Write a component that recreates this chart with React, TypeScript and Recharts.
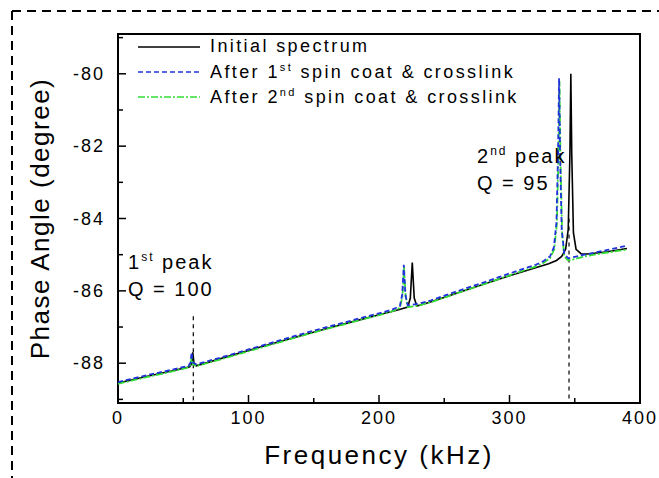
import { LineChart, Line, XAxis, YAxis, ReferenceLine, ReferenceArea, Label } from "recharts";

const initialFreq = [0, 20, 40, 55, 56.5, 57.3, 58.2, 60, 80, 100, 120, 140, 160, 180, 200, 215, 222, 224, 225.5, 227, 229, 240, 260, 280, 300, 320, 330, 336, 340, 343, 345, 346.3, 347, 347.7, 349, 351, 355, 360, 375, 390];
const initialPhase = [-88.55, -88.38, -88.22, -88.1, -88.0, -87.7, -88.0, -88.07, -87.86, -87.65, -87.44, -87.24, -87.04, -86.85, -86.66, -86.52, -86.45, -86.2, -85.22, -86.2, -86.42, -86.3, -86.06, -85.82, -85.58, -85.36, -85.25, -85.16, -85.05, -84.85, -84.3, -82.2, -80.0, -82.2, -84.4, -84.85, -84.98, -84.98, -84.92, -84.83];

const firstFreq = [0, 20, 40, 54, 55.6, 56.4, 57.2, 60, 80, 100, 120, 140, 160, 180, 200, 210, 216, 217.8, 219, 220.2, 222, 230, 240, 260, 280, 300, 320, 326, 331, 334, 336, 337.2, 338, 338.8, 340, 342, 345, 350, 360, 375, 390];
const firstPhase = [-88.52, -88.35, -88.19, -88.07, -87.98, -87.7, -87.98, -88.03, -87.83, -87.62, -87.41, -87.2, -87.0, -86.81, -86.62, -86.52, -86.42, -86.1, -85.28, -86.1, -86.4, -86.36, -86.26, -86.01, -85.77, -85.52, -85.28, -85.18, -85.05, -84.8, -84.1, -82.2, -80.12, -82.3, -84.3, -84.98, -85.1, -85.06, -84.98, -84.87, -84.75];

const secondFreq = [0, 20, 40, 54, 55.7, 56.5, 57.3, 60, 80, 100, 120, 140, 160, 180, 200, 210, 216, 218, 219.2, 220.4, 222, 230, 240, 260, 280, 300, 320, 326, 331, 334.3, 336.3, 337.5, 338.3, 339.1, 340.3, 342, 345, 350, 360, 375, 390];
const secondPhase = [-88.57, -88.4, -88.24, -88.12, -88.03, -87.78, -88.03, -88.08, -87.88, -87.67, -87.46, -87.25, -87.05, -86.86, -86.67, -86.57, -86.47, -86.15, -85.35, -86.15, -86.45, -86.41, -86.31, -86.06, -85.82, -85.57, -85.33, -85.23, -85.1, -84.85, -84.15, -82.3, -80.2, -82.4, -84.4, -85.05, -85.16, -85.12, -85.03, -84.94, -84.86];

const xTicks = [0, 50, 100, 150, 200, 250, 300, 350, 400];
const yTicks = [-89, -88, -87, -86, -85, -84, -83, -82, -81, -80, -79];

const toPoints = (f: number[], p: number[]) => f.map((x, i) => ({ freq: x, phase: p[i] }));
const initialData = toPoints(initialFreq, initialPhase);
const firstData = toPoints(firstFreq, firstPhase);
const secondData = toPoints(secondFreq, secondPhase);

const FONT = "'Liberation Sans', Arial, sans-serif";

const XTick = (props: any) => {
  const { x, y, payload } = props;
  const major = payload.value % 100 === 0;
  return (
    <g>
      <line x1={x} x2={x} y1={y} y2={y - (major ? 8 : 5)} stroke="#000" strokeWidth={1.5} />
      {major && (
        <text x={x} y={y + 21} textAnchor="middle" fontSize={18} fontFamily={FONT} letterSpacing={2} fill="#000">
          {payload.value}
        </text>
      )}
    </g>
  );
};

const YTick = (props: any) => {
  const { x, y, payload } = props;
  const major = Math.abs(payload.value) % 2 === 0;
  return (
    <g>
      <line x1={x} x2={x + (major ? 8 : 5)} y1={y} y2={y} stroke="#000" strokeWidth={1.5} />
      {major && (
        <text x={x - 13} y={y + 6} textAnchor="end" fontSize={18} fontFamily={FONT} letterSpacing={2} fill="#000">
          {payload.value}
        </text>
      )}
    </g>
  );
};

const legendRows = [
  { name: "Initial spectrum", color: "#000", dash: undefined, sup: "", pre: "" },
  { name: " spin coat & crosslink", color: "#2233dd", dash: "5 3", sup: "st", pre: "After 1" },
  { name: " spin coat & crosslink", color: "#33dd33", dash: "7 2 2 2", sup: "nd", pre: "After 2" },
];

const LegendBox = () => (
  <div style={{ position: "absolute", left: 138, top: 34, fontFamily: FONT, fontSize: 18, letterSpacing: 2.4, color: "#000" }}>
    {legendRows.map((r, i) => (
      <div key={i} style={{ display: "flex", alignItems: "center", height: 25 }}>
        <svg width={70} height={10} style={{ marginRight: 2 }}>
          <line x1={0} x2={62} y1={5} y2={5} stroke={r.color} strokeWidth={1.6} strokeDasharray={r.dash} />
        </svg>
        <span>
          {r.pre || r.name}
          {r.sup && <sup style={{ fontSize: 11 }}>{r.sup}</sup>}
          {r.pre && r.name}
        </span>
      </div>
    ))}
  </div>
);

const noteStyle: any = { position: "absolute", fontFamily: FONT, fontSize: 20, letterSpacing: 2, color: "#000", lineHeight: "27px" };

export default function App() {
  return (
    <div style={{ position: "absolute", left: 0, top: 0, width: 659, height: 478, background: "#fff" }}>
      <svg width={659} height={478} style={{ position: "absolute", left: 0, top: 0 }}>
        <line x1={12} x2={659} y1={11} y2={11} stroke="#000" strokeWidth={2} strokeDasharray="9 6" />
        <line x1={12} x2={12} y1={11} y2={478} stroke="#000" strokeWidth={2} strokeDasharray="9 6" />
      </svg>
      <div style={{ position: "absolute", left: 0, top: 0 }}>
        <LineChart width={659} height={478} data={initialData} margin={{ top: 34, right: 19, bottom: 0, left: 0 }}>
          <XAxis
            dataKey="freq"
            type="number"
            domain={[0, 400]}
            ticks={xTicks}
            axisLine={false}
            tickLine={false}
            tickSize={0}
            tickMargin={0}
            height={75}
            tick={<XTick />}
            interval={0}
          >
            <Label value="Frequency (kHz)" position="insideBottom" offset={14} fontSize={26} fontFamily={FONT} letterSpacing={2.5} fill="#000" />
          </XAxis>
          <YAxis
            type="number"
            domain={[-89.1, -78.9]}
            ticks={yTicks}
            axisLine={false}
            tickLine={false}
            tickSize={0}
            tickMargin={0}
            width={118}
            tick={<YTick />}
            interval={0}
          >
            <Label value="Phase Angle (degree)" angle={-90} position="insideLeft" offset={40} fontSize={26} fontFamily={FONT} letterSpacing={1.5} fill="#000" style={{ textAnchor: "middle" }} />
          </YAxis>
          <ReferenceArea x1={0} x2={400} y1={-89.1} y2={-78.9} fill="none" stroke="#000" strokeWidth={2} />
          <ReferenceLine segment={[{ x: 57.7, y: -86.7 }, { x: 57.7, y: -89.1 }]} stroke="#000" strokeDasharray="4 4" strokeWidth={1.2} />
          <ReferenceLine segment={[{ x: 345.6, y: -84.0 }, { x: 345.6, y: -89.1 }]} stroke="#000" strokeDasharray="4 4" strokeWidth={1.2} />
          <Line data={initialData} dataKey="phase" stroke="#000" strokeWidth={1.6} dot={false} isAnimationActive={false} name="Initial spectrum" />
          <Line data={secondData} dataKey="phase" stroke="#33dd33" strokeWidth={1.8} strokeDasharray="7 2 2 2" dot={false} isAnimationActive={false} name="second" />
          <Line data={firstData} dataKey="phase" stroke="#2233dd" strokeWidth={1.8} strokeDasharray="5 3" dot={false} isAnimationActive={false} name="first" />
        </LineChart>
      </div>
      <LegendBox />
      <div style={{ ...noteStyle, left: 128, top: 244 }}>
        1<sup style={{ fontSize: 12 }}>st</sup> peak
        <br />Q = 100
      </div>
      <div style={{ ...noteStyle, left: 477, top: 138 }}>
        2<sup style={{ fontSize: 12 }}>nd</sup> peak
        <br />Q = 95
      </div>
    </div>
  );
}
